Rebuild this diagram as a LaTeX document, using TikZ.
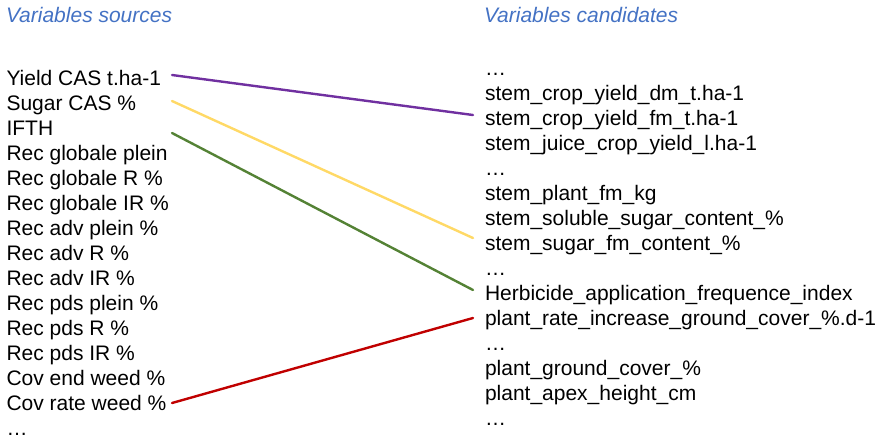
\documentclass[tikz,border=0pt]{standalone}
\usepackage{fontspec}
\setmainfont{Liberation Sans}
\definecolor{hdrblue}{HTML}{4472C4}
\definecolor{lpurple}{HTML}{7030A0}
\definecolor{lyellow}{HTML}{FFD966}
\definecolor{lgreen}{HTML}{548235}
\definecolor{lred}{HTML}{C00000}
\tikzset{
  lbl/.style={anchor=base west, inner sep=0pt, outer sep=0pt, font=\fontsize{21}{25}\selectfont},
  hdr/.style={lbl, text=hdrblue, font=\fontsize{21}{25}\selectfont\itshape},
  link/.style={line width=2.4pt, line cap=round},
}
\begin{document}
\begin{tikzpicture}[x=1pt,y=-1pt]
\useasboundingbox (0,0) rectangle (877,440);
% headers
\node[hdr] (hs) at (6,22.3) {Variables sources};
\node[hdr] (hc) at (484,22.3) {Variables candidates};
% left column
\foreach \t [count=\i from 0] in {Yield CAS t.ha-1,Sugar CAS \%,IFTH,Rec globale plein,Rec globale R \%,Rec globale IR \%,Rec adv plein \%,Rec adv R \%,Rec adv IR \%,Rec pds plein \%,Rec pds R \%,Rec pds IR \%,Cov end weed \%,Cov rate weed \%,\dots}
  \node[lbl] (s\i) at (6.5,85.7+25*\i) {\t};
% right column
\foreach \t [count=\i from 0] in {\dots,stem\_crop\_yield\_dm\_t.ha-1,stem\_crop\_yield\_fm\_t.ha-1,stem\_juice\_crop\_yield\_l.ha-1,\dots,stem\_plant\_fm\_kg,stem\_soluble\_sugar\_content\_\%,stem\_sugar\_fm\_content\_\%,\dots,Herbicide\_application\_frequence\_index,plant\_rate\_increase\_ground\_cover\_\%.d-1,\dots,plant\_ground\_cover\_\%,plant\_apex\_height\_cm,\dots}
  \node[lbl] (c\i) at (485,75+25*\i) {\t};
% link columns
\coordinate (lx) at (172,0);
\coordinate (rx) at (473,0);
\draw[link, lpurple] ([yshift=10.7pt]s0.base -| lx) -- ([yshift=10pt]c2.base -| rx);
\draw[link, lyellow] ([yshift=9.7pt]s1.base -| lx) -- ([yshift=12pt]c7.base -| rx);
\draw[link, lgreen]  ([yshift=2.7pt]s2.base -| lx) -- ([yshift=10pt]c9.base -| rx);
\draw[link, lred]    ([yshift=7.7pt]s13.base -| lx) -- ([yshift=7pt]c10.base -| rx);
\end{tikzpicture}
\end{document}
